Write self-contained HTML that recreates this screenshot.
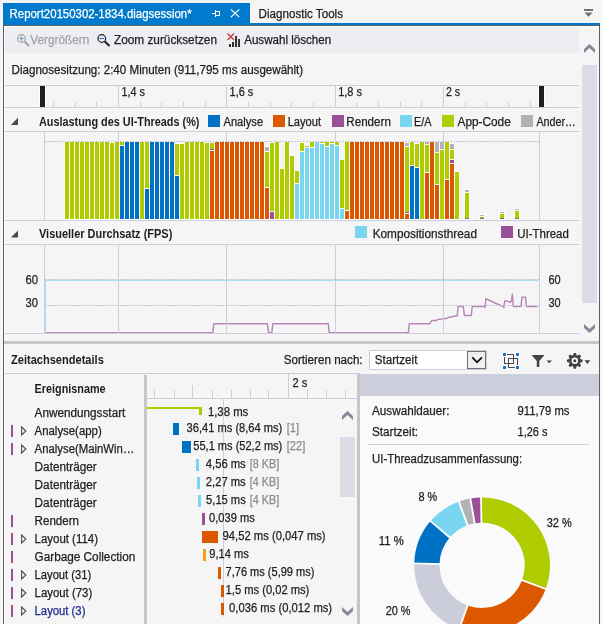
<!DOCTYPE html><html><head><meta charset="utf-8"><title>Diagnostic Tools</title><style>html,body{margin:0;padding:0;background:#f5f5f5;overflow:hidden;}svg{display:block;will-change:transform;}text{font-family:"Liberation Sans", "DejaVu Sans", sans-serif;font-size:12px;}</style></head><body>
<svg width="602" height="624" viewBox="0 0 602 624">
<g shape-rendering="crispEdges">
<rect x="0" y="0" width="602" height="624" fill="#f5f5f5"/>
<rect x="3" y="3" width="247" height="22" fill="#007acc"/>
<rect x="250" y="23" width="350" height="2" fill="#007acc"/>
<rect x="3" y="25" width="597" height="1" fill="#5e5e5e"/>
<rect x="3" y="25" width="1" height="599" fill="#5e5e5e"/>
<rect x="599" y="25" width="1" height="599" fill="#5e5e5e"/>
<rect x="4" y="26" width="595" height="1" fill="#ffffff"/>
<rect x="4" y="26" width="1" height="598" fill="#ffffff"/>
<rect x="5" y="27" width="574" height="26" fill="#eeeef2"/>
</g>
<text x="9.60" y="18" fill="#ffffff" stroke="#ffffff" stroke-width="0.25" textLength="181.99" lengthAdjust="spacingAndGlyphs">Report20150302-1834.diagsession*</text>
<text x="258.60" y="18" fill="#1e1e1e" stroke="#1e1e1e" stroke-width="0.25" textLength="84.40" lengthAdjust="spacingAndGlyphs">Diagnostic Tools</text>
<g shape-rendering="crispEdges">
<rect x="212" y="13" width="3" height="1" fill="#ffffff"/>
<rect x="215" y="10" width="1" height="7" fill="#ffffff"/>
<rect x="215" y="11" width="5" height="1" fill="#ffffff"/>
<rect x="215" y="15" width="5" height="1" fill="#ffffff"/>
<rect x="219" y="11" width="1" height="5" fill="#ffffff"/>
</g>
<path d="M230.9 9.4 L239.3 17.1 M239.3 9.4 L230.9 17.1" stroke="#ffffff" stroke-width="1.25" fill="none"/>
<g shape-rendering="crispEdges">
<rect x="584" y="9" width="9" height="2" fill="#717171"/>
</g>
<path d="M584.5 12.5 L592.5 12.5 L588.5 17 Z" fill="#717171"/>
<circle cx="21.5" cy="38.5" r="3.8" fill="none" stroke="#a0a0a0" stroke-width="1.2"/>
<path d="M24.5 41.5 L29 46" stroke="#a0a0a0" stroke-width="2"/>
<path d="M19.3 38.5 H23.7 M21.5 36.3 V40.7" stroke="#6c9bd2" stroke-width="1.1"/>
<text x="30.30" y="44" fill="#a2a4a5" stroke="#a2a4a5" stroke-width="0.25" textLength="59.06" lengthAdjust="spacingAndGlyphs">Vergrößern</text>
<circle cx="101.8" cy="38.5" r="3.8" fill="none" stroke="#1e1e1e" stroke-width="1.2"/>
<path d="M104.8 41.5 L109.5 46" stroke="#1e1e1e" stroke-width="2"/>
<path d="M99.6 38.5 H104" stroke="#1e6fc8" stroke-width="1.2"/>
<text x="114.00" y="44" fill="#1e1e1e" stroke="#1e1e1e" stroke-width="0.25" textLength="102.96" lengthAdjust="spacingAndGlyphs">Zoom zurücksetzen</text>
<path d="M227.5 33.5 L234 40 M234 33.5 L227.5 40" stroke="#c5372c" stroke-width="1.3"/>
<g shape-rendering="crispEdges">
<rect x="229" y="44" width="2" height="3" fill="#333333"/>
<rect x="232" y="42" width="2" height="5" fill="#333333"/>
<rect x="235" y="36" width="2" height="11" fill="#333333"/>
<rect x="238" y="39" width="2" height="8" fill="#333333"/>
</g>
<text x="244.20" y="44" fill="#1e1e1e" stroke="#1e1e1e" stroke-width="0.25" textLength="86.95" lengthAdjust="spacingAndGlyphs">Auswahl löschen</text>
<path d="M584 49.1 L589.5 44 L595 49.1 L595 53 L589.5 47.9 L584 53 Z" fill="#868999"/>
<g shape-rendering="crispEdges">
<rect x="582" y="65" width="15" height="238" fill="#dcdce6"/>
</g>
<path d="M584 324 L589.5 329.1 L595 324 L595 327.9 L589.5 333 L584 327.9 Z" fill="#868999"/>
<text x="11.60" y="74" fill="#1e1e1e" stroke="#1e1e1e" stroke-width="0.25" textLength="291.60" lengthAdjust="spacingAndGlyphs">Diagnosesitzung: 2:40 Minuten (911,795 ms ausgewählt)</text>
<g shape-rendering="crispEdges">
<rect x="5" y="85" width="574" height="1" fill="#cccedb"/>
<rect x="5" y="107" width="574" height="1" fill="#cccedb"/>
<rect x="118" y="86" width="1" height="21" fill="#cccedb"/>
<rect x="226" y="86" width="1" height="21" fill="#cccedb"/>
<rect x="335" y="86" width="1" height="21" fill="#cccedb"/>
<rect x="443" y="86" width="1" height="21" fill="#cccedb"/>
<rect x="53" y="102" width="1" height="5" fill="#cccedb"/>
<rect x="75" y="102" width="1" height="5" fill="#cccedb"/>
<rect x="96" y="102" width="1" height="5" fill="#cccedb"/>
<rect x="140" y="102" width="1" height="5" fill="#cccedb"/>
<rect x="161" y="102" width="1" height="5" fill="#cccedb"/>
<rect x="183" y="102" width="1" height="5" fill="#cccedb"/>
<rect x="205" y="102" width="1" height="5" fill="#cccedb"/>
<rect x="248" y="102" width="1" height="5" fill="#cccedb"/>
<rect x="270" y="102" width="1" height="5" fill="#cccedb"/>
<rect x="291" y="102" width="1" height="5" fill="#cccedb"/>
<rect x="313" y="102" width="1" height="5" fill="#cccedb"/>
<rect x="356" y="102" width="1" height="5" fill="#cccedb"/>
<rect x="378" y="102" width="1" height="5" fill="#cccedb"/>
<rect x="400" y="102" width="1" height="5" fill="#cccedb"/>
<rect x="421" y="102" width="1" height="5" fill="#cccedb"/>
<rect x="465" y="102" width="1" height="5" fill="#cccedb"/>
<rect x="486" y="102" width="1" height="5" fill="#cccedb"/>
<rect x="508" y="102" width="1" height="5" fill="#cccedb"/>
<rect x="530" y="102" width="1" height="5" fill="#cccedb"/>
<rect x="39" y="86" width="7" height="21" fill="#ffffff"/>
<rect x="538" y="86" width="7" height="21" fill="#ffffff"/>
<rect x="40" y="86" width="5" height="21" fill="#1e1e1e"/>
<rect x="539" y="86" width="5" height="21" fill="#1e1e1e"/>
</g>
<text x="121.50" y="96" fill="#1e1e1e" stroke="#1e1e1e" stroke-width="0.25" textLength="23.40" lengthAdjust="spacingAndGlyphs">1,4 s</text>
<text x="229.60" y="96" fill="#1e1e1e" stroke="#1e1e1e" stroke-width="0.25" textLength="23.70" lengthAdjust="spacingAndGlyphs">1,6 s</text>
<text x="338.20" y="96" fill="#1e1e1e" stroke="#1e1e1e" stroke-width="0.25" textLength="23.70" lengthAdjust="spacingAndGlyphs">1,8 s</text>
<text x="445.90" y="96" fill="#1e1e1e" stroke="#1e1e1e" stroke-width="0.25" textLength="14.20" lengthAdjust="spacingAndGlyphs">2 s</text>
<path d="M10.8 125 L18 125 L18 117.8 Z" fill="#4a4a4a"/>
<text x="39.00" y="126" fill="#1e1e1e" font-weight="bold" textLength="160.40" lengthAdjust="spacingAndGlyphs">Auslastung des UI-Threads (%)</text>
<g shape-rendering="crispEdges">
<rect x="208" y="115" width="12" height="12" fill="#0072c6"/>
<rect x="273" y="115" width="12" height="12" fill="#dc5800"/>
<rect x="332" y="115" width="12" height="12" fill="#9b4f96"/>
<rect x="400" y="115" width="12" height="12" fill="#79d6f0"/>
<rect x="442" y="115" width="12" height="12" fill="#afcc00"/>
<rect x="521" y="115" width="12" height="12" fill="#b2b2b2"/>
</g>
<text x="223.50" y="126" fill="#1e1e1e" stroke="#1e1e1e" stroke-width="0.25" textLength="39.60" lengthAdjust="spacingAndGlyphs">Analyse</text>
<text x="287.70" y="126" fill="#1e1e1e" stroke="#1e1e1e" stroke-width="0.25" textLength="33.38" lengthAdjust="spacingAndGlyphs">Layout</text>
<text x="346.30" y="126" fill="#1e1e1e" stroke="#1e1e1e" stroke-width="0.25" textLength="44.55" lengthAdjust="spacingAndGlyphs">Rendern</text>
<text x="414.10" y="126" fill="#1e1e1e" stroke="#1e1e1e" stroke-width="0.25" textLength="17.50" lengthAdjust="spacingAndGlyphs">E/A</text>
<text x="457.50" y="126" fill="#1e1e1e" stroke="#1e1e1e" stroke-width="0.25" textLength="53.28" lengthAdjust="spacingAndGlyphs">App-Code</text>
<text x="536.40" y="126" fill="#1e1e1e" stroke="#1e1e1e" stroke-width="0.25" textLength="39.50" lengthAdjust="spacingAndGlyphs">Ander…</text>
<g shape-rendering="crispEdges">
<rect x="5" y="131" width="574" height="1" fill="#cccedb"/>
<rect x="44" y="132" width="1" height="88" fill="#cccedb"/>
<rect x="539" y="132" width="1" height="88" fill="#cccedb"/>
<rect x="118" y="132" width="1" height="88" fill="#cccedb"/>
<rect x="226" y="132" width="1" height="88" fill="#cccedb"/>
<rect x="335" y="132" width="1" height="88" fill="#cccedb"/>
<rect x="443" y="132" width="1" height="88" fill="#cccedb"/>
<rect x="5" y="220" width="574" height="1" fill="#cccedb"/>
<rect x="64" y="141" width="6" height="79" fill="#ffffff"/>
<rect x="65" y="142" width="4" height="77" fill="#afcc00"/>
<rect x="69" y="141" width="6" height="79" fill="#ffffff"/>
<rect x="70" y="142" width="4" height="77" fill="#afcc00"/>
<rect x="74" y="141" width="6" height="79" fill="#ffffff"/>
<rect x="75" y="142" width="4" height="77" fill="#afcc00"/>
<rect x="79" y="141" width="6" height="79" fill="#ffffff"/>
<rect x="80" y="142" width="4" height="77" fill="#afcc00"/>
<rect x="84" y="141" width="6" height="79" fill="#ffffff"/>
<rect x="85" y="142" width="4" height="77" fill="#afcc00"/>
<rect x="89" y="141" width="6" height="79" fill="#ffffff"/>
<rect x="90" y="142" width="4" height="77" fill="#afcc00"/>
<rect x="94" y="141" width="6" height="79" fill="#ffffff"/>
<rect x="95" y="142" width="4" height="77" fill="#afcc00"/>
<rect x="99" y="141" width="6" height="79" fill="#ffffff"/>
<rect x="100" y="142" width="4" height="77" fill="#afcc00"/>
<rect x="104" y="141" width="6" height="79" fill="#ffffff"/>
<rect x="105" y="142" width="4" height="77" fill="#afcc00"/>
<rect x="109" y="142" width="6" height="78" fill="#ffffff"/>
<rect x="110" y="143" width="4" height="76" fill="#afcc00"/>
<rect x="114" y="141" width="6" height="79" fill="#ffffff"/>
<rect x="115" y="142" width="4" height="77" fill="#afcc00"/>
<rect x="119" y="141" width="6" height="79" fill="#ffffff"/>
<rect x="120" y="142" width="4" height="3" fill="#afcc00"/>
<rect x="120" y="146" width="4" height="73" fill="#0072c6"/>
<rect x="124" y="141" width="6" height="79" fill="#ffffff"/>
<rect x="125" y="142" width="4" height="77" fill="#0072c6"/>
<rect x="129" y="141" width="6" height="79" fill="#ffffff"/>
<rect x="130" y="142" width="4" height="77" fill="#0072c6"/>
<rect x="134" y="141" width="6" height="79" fill="#ffffff"/>
<rect x="135" y="142" width="4" height="77" fill="#0072c6"/>
<rect x="139" y="141" width="6" height="79" fill="#ffffff"/>
<rect x="140" y="142" width="4" height="77" fill="#afcc00"/>
<rect x="144" y="141" width="6" height="79" fill="#ffffff"/>
<rect x="145" y="142" width="4" height="46" fill="#afcc00"/>
<rect x="145" y="189" width="4" height="30" fill="#0072c6"/>
<rect x="149" y="141" width="6" height="79" fill="#ffffff"/>
<rect x="150" y="142" width="4" height="77" fill="#0072c6"/>
<rect x="154" y="141" width="6" height="79" fill="#ffffff"/>
<rect x="155" y="142" width="4" height="77" fill="#0072c6"/>
<rect x="159" y="141" width="6" height="79" fill="#ffffff"/>
<rect x="160" y="142" width="4" height="77" fill="#0072c6"/>
<rect x="164" y="141" width="6" height="79" fill="#ffffff"/>
<rect x="165" y="142" width="4" height="77" fill="#0072c6"/>
<rect x="169" y="141" width="6" height="79" fill="#ffffff"/>
<rect x="170" y="142" width="4" height="77" fill="#0072c6"/>
<rect x="174" y="143" width="6" height="77" fill="#ffffff"/>
<rect x="175" y="144" width="4" height="31" fill="#afcc00"/>
<rect x="175" y="176" width="4" height="43" fill="#0072c6"/>
<rect x="179" y="143" width="6" height="77" fill="#ffffff"/>
<rect x="180" y="144" width="4" height="75" fill="#afcc00"/>
<rect x="184" y="141" width="6" height="79" fill="#ffffff"/>
<rect x="185" y="142" width="4" height="77" fill="#afcc00"/>
<rect x="189" y="141" width="6" height="79" fill="#ffffff"/>
<rect x="190" y="142" width="4" height="77" fill="#afcc00"/>
<rect x="194" y="141" width="6" height="79" fill="#ffffff"/>
<rect x="195" y="142" width="4" height="77" fill="#afcc00"/>
<rect x="199" y="141" width="6" height="79" fill="#ffffff"/>
<rect x="200" y="142" width="4" height="77" fill="#afcc00"/>
<rect x="204" y="142" width="6" height="78" fill="#ffffff"/>
<rect x="205" y="143" width="4" height="76" fill="#afcc00"/>
<rect x="209" y="142" width="6" height="78" fill="#ffffff"/>
<rect x="210" y="143" width="4" height="6" fill="#afcc00"/>
<rect x="210" y="149" width="4" height="1" fill="#9b4f96"/>
<rect x="210" y="151" width="4" height="68" fill="#dc5800"/>
<rect x="214" y="141" width="6" height="79" fill="#ffffff"/>
<rect x="215" y="142" width="4" height="77" fill="#dc5800"/>
<rect x="219" y="141" width="6" height="79" fill="#ffffff"/>
<rect x="220" y="142" width="4" height="77" fill="#dc5800"/>
<rect x="224" y="141" width="6" height="79" fill="#ffffff"/>
<rect x="225" y="142" width="4" height="77" fill="#dc5800"/>
<rect x="229" y="141" width="6" height="79" fill="#ffffff"/>
<rect x="230" y="142" width="4" height="77" fill="#dc5800"/>
<rect x="234" y="141" width="6" height="79" fill="#ffffff"/>
<rect x="235" y="142" width="4" height="77" fill="#dc5800"/>
<rect x="239" y="141" width="6" height="79" fill="#ffffff"/>
<rect x="240" y="142" width="4" height="77" fill="#dc5800"/>
<rect x="244" y="141" width="6" height="79" fill="#ffffff"/>
<rect x="245" y="142" width="4" height="77" fill="#dc5800"/>
<rect x="249" y="141" width="6" height="79" fill="#ffffff"/>
<rect x="250" y="142" width="4" height="77" fill="#dc5800"/>
<rect x="254" y="141" width="6" height="79" fill="#ffffff"/>
<rect x="255" y="142" width="4" height="77" fill="#dc5800"/>
<rect x="259" y="141" width="6" height="79" fill="#ffffff"/>
<rect x="260" y="142" width="4" height="77" fill="#dc5800"/>
<rect x="264" y="146" width="6" height="74" fill="#ffffff"/>
<rect x="265" y="147" width="4" height="4" fill="#b2b2b2"/>
<rect x="265" y="152" width="4" height="35" fill="#afcc00"/>
<rect x="265" y="188" width="4" height="31" fill="#dc5800"/>
<rect x="269" y="142" width="6" height="78" fill="#ffffff"/>
<rect x="270" y="143" width="4" height="68" fill="#afcc00"/>
<rect x="270" y="212" width="4" height="7" fill="#9b4f96"/>
<rect x="274" y="141" width="6" height="79" fill="#ffffff"/>
<rect x="275" y="142" width="4" height="77" fill="#afcc00"/>
<rect x="279" y="168" width="6" height="52" fill="#ffffff"/>
<rect x="280" y="169" width="4" height="50" fill="#afcc00"/>
<rect x="284" y="141" width="6" height="79" fill="#ffffff"/>
<rect x="285" y="142" width="4" height="77" fill="#afcc00"/>
<rect x="289" y="155" width="6" height="65" fill="#ffffff"/>
<rect x="290" y="156" width="4" height="63" fill="#afcc00"/>
<rect x="294" y="170" width="6" height="50" fill="#ffffff"/>
<rect x="295" y="171" width="4" height="12" fill="#afcc00"/>
<rect x="295" y="184" width="4" height="35" fill="#79d6f0"/>
<rect x="299" y="142" width="6" height="78" fill="#ffffff"/>
<rect x="300" y="143" width="4" height="8" fill="#afcc00"/>
<rect x="300" y="152" width="4" height="67" fill="#79d6f0"/>
<rect x="304" y="145" width="6" height="75" fill="#ffffff"/>
<rect x="305" y="146" width="4" height="1" fill="#afcc00"/>
<rect x="305" y="148" width="4" height="71" fill="#79d6f0"/>
<rect x="309" y="141" width="6" height="79" fill="#ffffff"/>
<rect x="310" y="142" width="4" height="5" fill="#afcc00"/>
<rect x="310" y="148" width="4" height="71" fill="#79d6f0"/>
<rect x="314" y="141" width="6" height="79" fill="#ffffff"/>
<rect x="315" y="142" width="4" height="77" fill="#79d6f0"/>
<rect x="319" y="141" width="6" height="79" fill="#ffffff"/>
<rect x="320" y="142" width="4" height="1" fill="#afcc00"/>
<rect x="320" y="144" width="4" height="75" fill="#79d6f0"/>
<rect x="324" y="141" width="6" height="79" fill="#ffffff"/>
<rect x="325" y="142" width="4" height="4" fill="#afcc00"/>
<rect x="325" y="147" width="4" height="72" fill="#79d6f0"/>
<rect x="329" y="141" width="6" height="79" fill="#ffffff"/>
<rect x="330" y="142" width="4" height="1" fill="#afcc00"/>
<rect x="330" y="144" width="4" height="75" fill="#79d6f0"/>
<rect x="334" y="141" width="6" height="79" fill="#ffffff"/>
<rect x="335" y="142" width="4" height="3" fill="#afcc00"/>
<rect x="335" y="146" width="4" height="73" fill="#79d6f0"/>
<rect x="339" y="159" width="6" height="61" fill="#ffffff"/>
<rect x="340" y="160" width="4" height="48" fill="#afcc00"/>
<rect x="340" y="209" width="4" height="10" fill="#79d6f0"/>
<rect x="344" y="141" width="6" height="79" fill="#ffffff"/>
<rect x="345" y="142" width="4" height="68" fill="#afcc00"/>
<rect x="345" y="211" width="4" height="8" fill="#dc5800"/>
<rect x="349" y="141" width="6" height="79" fill="#ffffff"/>
<rect x="350" y="142" width="4" height="77" fill="#dc5800"/>
<rect x="354" y="141" width="6" height="79" fill="#ffffff"/>
<rect x="355" y="142" width="4" height="77" fill="#dc5800"/>
<rect x="359" y="141" width="6" height="79" fill="#ffffff"/>
<rect x="360" y="142" width="4" height="77" fill="#dc5800"/>
<rect x="364" y="141" width="6" height="79" fill="#ffffff"/>
<rect x="365" y="142" width="4" height="77" fill="#dc5800"/>
<rect x="369" y="141" width="6" height="79" fill="#ffffff"/>
<rect x="370" y="142" width="4" height="77" fill="#dc5800"/>
<rect x="374" y="141" width="6" height="79" fill="#ffffff"/>
<rect x="375" y="142" width="4" height="77" fill="#dc5800"/>
<rect x="379" y="141" width="6" height="79" fill="#ffffff"/>
<rect x="380" y="142" width="4" height="77" fill="#dc5800"/>
<rect x="384" y="141" width="6" height="79" fill="#ffffff"/>
<rect x="385" y="142" width="4" height="77" fill="#dc5800"/>
<rect x="389" y="141" width="6" height="79" fill="#ffffff"/>
<rect x="390" y="142" width="4" height="77" fill="#dc5800"/>
<rect x="394" y="141" width="6" height="79" fill="#ffffff"/>
<rect x="395" y="142" width="4" height="77" fill="#dc5800"/>
<rect x="399" y="141" width="6" height="79" fill="#ffffff"/>
<rect x="400" y="142" width="4" height="77" fill="#dc5800"/>
<rect x="404" y="142" width="6" height="78" fill="#ffffff"/>
<rect x="405" y="143" width="4" height="3" fill="#b2b2b2"/>
<rect x="405" y="147" width="4" height="65" fill="#afcc00"/>
<rect x="405" y="212" width="4" height="1" fill="#9b4f96"/>
<rect x="405" y="214" width="4" height="5" fill="#dc5800"/>
<rect x="409" y="141" width="6" height="79" fill="#ffffff"/>
<rect x="410" y="142" width="4" height="23" fill="#afcc00"/>
<rect x="410" y="166" width="4" height="53" fill="#0072c6"/>
<rect x="414" y="143" width="6" height="77" fill="#ffffff"/>
<rect x="415" y="144" width="4" height="23" fill="#afcc00"/>
<rect x="415" y="168" width="4" height="51" fill="#0072c6"/>
<rect x="419" y="141" width="6" height="79" fill="#ffffff"/>
<rect x="420" y="142" width="4" height="77" fill="#afcc00"/>
<rect x="424" y="141" width="6" height="79" fill="#ffffff"/>
<rect x="425" y="142" width="4" height="2" fill="#b2b2b2"/>
<rect x="425" y="145" width="4" height="27" fill="#afcc00"/>
<rect x="425" y="173" width="4" height="46" fill="#dc5800"/>
<rect x="429" y="141" width="6" height="79" fill="#ffffff"/>
<rect x="430" y="142" width="4" height="77" fill="#dc5800"/>
<rect x="434" y="141" width="6" height="79" fill="#ffffff"/>
<rect x="435" y="142" width="4" height="10" fill="#b2b2b2"/>
<rect x="435" y="153" width="4" height="31" fill="#afcc00"/>
<rect x="435" y="185" width="4" height="34" fill="#dc5800"/>
<rect x="439" y="141" width="6" height="79" fill="#ffffff"/>
<rect x="440" y="142" width="4" height="7" fill="#b2b2b2"/>
<rect x="440" y="150" width="4" height="69" fill="#afcc00"/>
<rect x="444" y="141" width="6" height="79" fill="#ffffff"/>
<rect x="445" y="142" width="4" height="37" fill="#afcc00"/>
<rect x="445" y="180" width="4" height="39" fill="#dc5800"/>
<rect x="449" y="143" width="6" height="77" fill="#ffffff"/>
<rect x="450" y="144" width="4" height="5" fill="#b2b2b2"/>
<rect x="450" y="150" width="4" height="9" fill="#afcc00"/>
<rect x="450" y="160" width="4" height="3" fill="#9b4f96"/>
<rect x="450" y="164" width="4" height="55" fill="#dc5800"/>
<rect x="454" y="171" width="6" height="49" fill="#ffffff"/>
<rect x="455" y="172" width="4" height="47" fill="#afcc00"/>
<rect x="464" y="189" width="6" height="31" fill="#ffffff"/>
<rect x="465" y="190" width="4" height="2" fill="#b2b2b2"/>
<rect x="465" y="193" width="4" height="25" fill="#afcc00"/>
<rect x="465" y="218" width="4" height="1" fill="#9b4f96"/>
<rect x="479" y="214" width="6" height="6" fill="#ffffff"/>
<rect x="480" y="215" width="4" height="1" fill="#b2b2b2"/>
<rect x="480" y="217" width="4" height="1" fill="#afcc00"/>
<rect x="480" y="218" width="4" height="1" fill="#9b4f96"/>
<rect x="499" y="211" width="6" height="9" fill="#ffffff"/>
<rect x="500" y="212" width="4" height="1" fill="#b2b2b2"/>
<rect x="500" y="214" width="4" height="4" fill="#afcc00"/>
<rect x="500" y="218" width="4" height="1" fill="#9b4f96"/>
<rect x="514" y="208" width="6" height="12" fill="#ffffff"/>
<rect x="515" y="209" width="4" height="1" fill="#b2b2b2"/>
<rect x="515" y="211" width="4" height="7" fill="#afcc00"/>
<rect x="515" y="218" width="4" height="1" fill="#9b4f96"/>
<rect x="45" y="141" width="2" height="1" fill="#c3c5d3"/>
<rect x="48" y="141" width="2" height="1" fill="#c3c5d3"/>
<rect x="51" y="141" width="2" height="1" fill="#c3c5d3"/>
<rect x="54" y="141" width="2" height="1" fill="#c3c5d3"/>
<rect x="57" y="141" width="2" height="1" fill="#c3c5d3"/>
<rect x="60" y="141" width="2" height="1" fill="#c3c5d3"/>
<rect x="63" y="141" width="2" height="1" fill="#c3c5d3"/>
<rect x="66" y="141" width="2" height="1" fill="#c3c5d3"/>
<rect x="69" y="141" width="2" height="1" fill="#c3c5d3"/>
<rect x="72" y="141" width="2" height="1" fill="#c3c5d3"/>
<rect x="75" y="141" width="2" height="1" fill="#c3c5d3"/>
<rect x="78" y="141" width="2" height="1" fill="#c3c5d3"/>
<rect x="81" y="141" width="2" height="1" fill="#c3c5d3"/>
<rect x="84" y="141" width="2" height="1" fill="#c3c5d3"/>
<rect x="87" y="141" width="2" height="1" fill="#c3c5d3"/>
<rect x="90" y="141" width="2" height="1" fill="#c3c5d3"/>
<rect x="93" y="141" width="2" height="1" fill="#c3c5d3"/>
<rect x="96" y="141" width="2" height="1" fill="#c3c5d3"/>
<rect x="99" y="141" width="2" height="1" fill="#c3c5d3"/>
<rect x="102" y="141" width="2" height="1" fill="#c3c5d3"/>
<rect x="105" y="141" width="2" height="1" fill="#c3c5d3"/>
<rect x="108" y="141" width="2" height="1" fill="#c3c5d3"/>
<rect x="111" y="141" width="2" height="1" fill="#c3c5d3"/>
<rect x="114" y="141" width="2" height="1" fill="#c3c5d3"/>
<rect x="117" y="141" width="2" height="1" fill="#c3c5d3"/>
<rect x="120" y="141" width="2" height="1" fill="#c3c5d3"/>
<rect x="123" y="141" width="2" height="1" fill="#c3c5d3"/>
<rect x="126" y="141" width="2" height="1" fill="#c3c5d3"/>
<rect x="129" y="141" width="2" height="1" fill="#c3c5d3"/>
<rect x="132" y="141" width="2" height="1" fill="#c3c5d3"/>
<rect x="135" y="141" width="2" height="1" fill="#c3c5d3"/>
<rect x="138" y="141" width="2" height="1" fill="#c3c5d3"/>
<rect x="141" y="141" width="2" height="1" fill="#c3c5d3"/>
<rect x="144" y="141" width="2" height="1" fill="#c3c5d3"/>
<rect x="147" y="141" width="2" height="1" fill="#c3c5d3"/>
<rect x="150" y="141" width="2" height="1" fill="#c3c5d3"/>
<rect x="153" y="141" width="2" height="1" fill="#c3c5d3"/>
<rect x="156" y="141" width="2" height="1" fill="#c3c5d3"/>
<rect x="159" y="141" width="2" height="1" fill="#c3c5d3"/>
<rect x="162" y="141" width="2" height="1" fill="#c3c5d3"/>
<rect x="165" y="141" width="2" height="1" fill="#c3c5d3"/>
<rect x="168" y="141" width="2" height="1" fill="#c3c5d3"/>
<rect x="171" y="141" width="2" height="1" fill="#c3c5d3"/>
<rect x="174" y="141" width="2" height="1" fill="#c3c5d3"/>
<rect x="177" y="141" width="2" height="1" fill="#c3c5d3"/>
<rect x="180" y="141" width="2" height="1" fill="#c3c5d3"/>
<rect x="183" y="141" width="2" height="1" fill="#c3c5d3"/>
<rect x="186" y="141" width="2" height="1" fill="#c3c5d3"/>
<rect x="189" y="141" width="2" height="1" fill="#c3c5d3"/>
<rect x="192" y="141" width="2" height="1" fill="#c3c5d3"/>
<rect x="195" y="141" width="2" height="1" fill="#c3c5d3"/>
<rect x="198" y="141" width="2" height="1" fill="#c3c5d3"/>
<rect x="201" y="141" width="2" height="1" fill="#c3c5d3"/>
<rect x="204" y="141" width="2" height="1" fill="#c3c5d3"/>
<rect x="207" y="141" width="2" height="1" fill="#c3c5d3"/>
<rect x="210" y="141" width="2" height="1" fill="#c3c5d3"/>
<rect x="213" y="141" width="2" height="1" fill="#c3c5d3"/>
<rect x="216" y="141" width="2" height="1" fill="#c3c5d3"/>
<rect x="219" y="141" width="2" height="1" fill="#c3c5d3"/>
<rect x="222" y="141" width="2" height="1" fill="#c3c5d3"/>
<rect x="225" y="141" width="2" height="1" fill="#c3c5d3"/>
<rect x="228" y="141" width="2" height="1" fill="#c3c5d3"/>
<rect x="231" y="141" width="2" height="1" fill="#c3c5d3"/>
<rect x="234" y="141" width="2" height="1" fill="#c3c5d3"/>
<rect x="237" y="141" width="2" height="1" fill="#c3c5d3"/>
<rect x="240" y="141" width="2" height="1" fill="#c3c5d3"/>
<rect x="243" y="141" width="2" height="1" fill="#c3c5d3"/>
<rect x="246" y="141" width="2" height="1" fill="#c3c5d3"/>
<rect x="249" y="141" width="2" height="1" fill="#c3c5d3"/>
<rect x="252" y="141" width="2" height="1" fill="#c3c5d3"/>
<rect x="255" y="141" width="2" height="1" fill="#c3c5d3"/>
<rect x="258" y="141" width="2" height="1" fill="#c3c5d3"/>
<rect x="261" y="141" width="2" height="1" fill="#c3c5d3"/>
<rect x="264" y="141" width="2" height="1" fill="#c3c5d3"/>
<rect x="267" y="141" width="2" height="1" fill="#c3c5d3"/>
<rect x="270" y="141" width="2" height="1" fill="#c3c5d3"/>
<rect x="273" y="141" width="2" height="1" fill="#c3c5d3"/>
<rect x="276" y="141" width="2" height="1" fill="#c3c5d3"/>
<rect x="279" y="141" width="2" height="1" fill="#c3c5d3"/>
<rect x="282" y="141" width="2" height="1" fill="#c3c5d3"/>
<rect x="285" y="141" width="2" height="1" fill="#c3c5d3"/>
<rect x="288" y="141" width="2" height="1" fill="#c3c5d3"/>
<rect x="291" y="141" width="2" height="1" fill="#c3c5d3"/>
<rect x="294" y="141" width="2" height="1" fill="#c3c5d3"/>
<rect x="297" y="141" width="2" height="1" fill="#c3c5d3"/>
<rect x="300" y="141" width="2" height="1" fill="#c3c5d3"/>
<rect x="303" y="141" width="2" height="1" fill="#c3c5d3"/>
<rect x="306" y="141" width="2" height="1" fill="#c3c5d3"/>
<rect x="309" y="141" width="2" height="1" fill="#c3c5d3"/>
<rect x="312" y="141" width="2" height="1" fill="#c3c5d3"/>
<rect x="315" y="141" width="2" height="1" fill="#c3c5d3"/>
<rect x="318" y="141" width="2" height="1" fill="#c3c5d3"/>
<rect x="321" y="141" width="2" height="1" fill="#c3c5d3"/>
<rect x="324" y="141" width="2" height="1" fill="#c3c5d3"/>
<rect x="327" y="141" width="2" height="1" fill="#c3c5d3"/>
<rect x="330" y="141" width="2" height="1" fill="#c3c5d3"/>
<rect x="333" y="141" width="2" height="1" fill="#c3c5d3"/>
<rect x="336" y="141" width="2" height="1" fill="#c3c5d3"/>
<rect x="339" y="141" width="2" height="1" fill="#c3c5d3"/>
<rect x="342" y="141" width="2" height="1" fill="#c3c5d3"/>
<rect x="345" y="141" width="2" height="1" fill="#c3c5d3"/>
<rect x="348" y="141" width="2" height="1" fill="#c3c5d3"/>
<rect x="351" y="141" width="2" height="1" fill="#c3c5d3"/>
<rect x="354" y="141" width="2" height="1" fill="#c3c5d3"/>
<rect x="357" y="141" width="2" height="1" fill="#c3c5d3"/>
<rect x="360" y="141" width="2" height="1" fill="#c3c5d3"/>
<rect x="363" y="141" width="2" height="1" fill="#c3c5d3"/>
<rect x="366" y="141" width="2" height="1" fill="#c3c5d3"/>
<rect x="369" y="141" width="2" height="1" fill="#c3c5d3"/>
<rect x="372" y="141" width="2" height="1" fill="#c3c5d3"/>
<rect x="375" y="141" width="2" height="1" fill="#c3c5d3"/>
<rect x="378" y="141" width="2" height="1" fill="#c3c5d3"/>
<rect x="381" y="141" width="2" height="1" fill="#c3c5d3"/>
<rect x="384" y="141" width="2" height="1" fill="#c3c5d3"/>
<rect x="387" y="141" width="2" height="1" fill="#c3c5d3"/>
<rect x="390" y="141" width="2" height="1" fill="#c3c5d3"/>
<rect x="393" y="141" width="2" height="1" fill="#c3c5d3"/>
<rect x="396" y="141" width="2" height="1" fill="#c3c5d3"/>
<rect x="399" y="141" width="2" height="1" fill="#c3c5d3"/>
<rect x="402" y="141" width="2" height="1" fill="#c3c5d3"/>
<rect x="405" y="141" width="2" height="1" fill="#c3c5d3"/>
<rect x="408" y="141" width="2" height="1" fill="#c3c5d3"/>
<rect x="411" y="141" width="2" height="1" fill="#c3c5d3"/>
<rect x="414" y="141" width="2" height="1" fill="#c3c5d3"/>
<rect x="417" y="141" width="2" height="1" fill="#c3c5d3"/>
<rect x="420" y="141" width="2" height="1" fill="#c3c5d3"/>
<rect x="423" y="141" width="2" height="1" fill="#c3c5d3"/>
<rect x="426" y="141" width="2" height="1" fill="#c3c5d3"/>
<rect x="429" y="141" width="2" height="1" fill="#c3c5d3"/>
<rect x="432" y="141" width="2" height="1" fill="#c3c5d3"/>
<rect x="435" y="141" width="2" height="1" fill="#c3c5d3"/>
<rect x="438" y="141" width="2" height="1" fill="#c3c5d3"/>
<rect x="441" y="141" width="2" height="1" fill="#c3c5d3"/>
<rect x="444" y="141" width="2" height="1" fill="#c3c5d3"/>
<rect x="447" y="141" width="2" height="1" fill="#c3c5d3"/>
<rect x="450" y="141" width="2" height="1" fill="#c3c5d3"/>
<rect x="453" y="141" width="2" height="1" fill="#c3c5d3"/>
<rect x="456" y="141" width="2" height="1" fill="#c3c5d3"/>
<rect x="459" y="141" width="2" height="1" fill="#c3c5d3"/>
<rect x="462" y="141" width="2" height="1" fill="#c3c5d3"/>
<rect x="465" y="141" width="2" height="1" fill="#c3c5d3"/>
<rect x="468" y="141" width="2" height="1" fill="#c3c5d3"/>
<rect x="471" y="141" width="2" height="1" fill="#c3c5d3"/>
<rect x="474" y="141" width="2" height="1" fill="#c3c5d3"/>
<rect x="477" y="141" width="2" height="1" fill="#c3c5d3"/>
<rect x="480" y="141" width="2" height="1" fill="#c3c5d3"/>
<rect x="483" y="141" width="2" height="1" fill="#c3c5d3"/>
<rect x="486" y="141" width="2" height="1" fill="#c3c5d3"/>
<rect x="489" y="141" width="2" height="1" fill="#c3c5d3"/>
<rect x="492" y="141" width="2" height="1" fill="#c3c5d3"/>
<rect x="495" y="141" width="2" height="1" fill="#c3c5d3"/>
<rect x="498" y="141" width="2" height="1" fill="#c3c5d3"/>
<rect x="501" y="141" width="2" height="1" fill="#c3c5d3"/>
<rect x="504" y="141" width="2" height="1" fill="#c3c5d3"/>
<rect x="507" y="141" width="2" height="1" fill="#c3c5d3"/>
<rect x="510" y="141" width="2" height="1" fill="#c3c5d3"/>
<rect x="513" y="141" width="2" height="1" fill="#c3c5d3"/>
<rect x="516" y="141" width="2" height="1" fill="#c3c5d3"/>
<rect x="519" y="141" width="2" height="1" fill="#c3c5d3"/>
<rect x="522" y="141" width="2" height="1" fill="#c3c5d3"/>
<rect x="525" y="141" width="2" height="1" fill="#c3c5d3"/>
<rect x="528" y="141" width="2" height="1" fill="#c3c5d3"/>
<rect x="531" y="141" width="2" height="1" fill="#c3c5d3"/>
<rect x="534" y="141" width="2" height="1" fill="#c3c5d3"/>
<rect x="537" y="141" width="2" height="1" fill="#c3c5d3"/>
</g>
<path d="M10.8 237.6 L18 237.6 L18 230.4 Z" fill="#4a4a4a"/>
<text x="39.00" y="238" fill="#1e1e1e" font-weight="bold" textLength="133.30" lengthAdjust="spacingAndGlyphs">Visueller Durchsatz (FPS)</text>
<g shape-rendering="crispEdges">
<rect x="355" y="226" width="12" height="12" fill="#79d6f0"/>
<rect x="501" y="226" width="12" height="12" fill="#9b4f96"/>
</g>
<text x="372.70" y="238" fill="#1e1e1e" stroke="#1e1e1e" stroke-width="0.25" textLength="104.26" lengthAdjust="spacingAndGlyphs">Kompositionsthread</text>
<text x="517.30" y="238" fill="#1e1e1e" stroke="#1e1e1e" stroke-width="0.25" textLength="51.54" lengthAdjust="spacingAndGlyphs">UI-Thread</text>
<g shape-rendering="crispEdges">
<rect x="5" y="244" width="574" height="1" fill="#cccedb"/>
<rect x="44" y="245" width="1" height="88" fill="#cccedb"/>
<rect x="539" y="245" width="1" height="88" fill="#cccedb"/>
<rect x="45" y="280" width="493" height="1" fill="#a8def0"/>
<rect x="45" y="280" width="1" height="52" fill="#a8def0"/>
</g>
<text x="25.60" y="284" fill="#1e1e1e" stroke="#1e1e1e" stroke-width="0.25" textLength="12.49" lengthAdjust="spacingAndGlyphs">60</text>
<text x="25.60" y="307" fill="#1e1e1e" stroke="#1e1e1e" stroke-width="0.25" textLength="12.49" lengthAdjust="spacingAndGlyphs">30</text>
<text x="548.50" y="284" fill="#1e1e1e" stroke="#1e1e1e" stroke-width="0.25" textLength="12.20" lengthAdjust="spacingAndGlyphs">60</text>
<text x="548.50" y="307" fill="#1e1e1e" stroke="#1e1e1e" stroke-width="0.25" textLength="12.20" lengthAdjust="spacingAndGlyphs">30</text>
<path d="M45.5 332.8 L212.8 332.8 L213.8 323.8 L267.3 323.8 L268.6 332.8 L271.8 332.8 L272.8 323.8 L328.3 323.8 L329.3 332.8 L408.3 332.8 L409.3 323.8 L429.7 323.8 L431.7 320.6 L436.7 320.4 L438 319.2 L443 318.9 L447 318.2 L449 317.2 L451.5 317 L452.5 316.4 L456.2 316.1 L457.3 315.8 L458 306.5 L463.3 306.5 L464.3 315.4 L471.3 315.4 L472.2 306.5 L484.4 306.5 L485.1 307.5 L485.9 298.8 L500 305.2 L503 306.2 L504 307.4 L504.7 300.9 L507 300.9 L510.3 302.4 L511.5 301.2 L512.4 294.2 L513.3 306.5 L521 306.5 L522 297.2 L525.5 297.2 L526.5 306.5 L537.5 306.5" fill="none" stroke="#ffffff" stroke-opacity="0.5" stroke-width="3.5" stroke-linejoin="round"/>
<path d="M45.5 332.8 L212.8 332.8 L213.8 323.8 L267.3 323.8 L268.6 332.8 L271.8 332.8 L272.8 323.8 L328.3 323.8 L329.3 332.8 L408.3 332.8 L409.3 323.8 L429.7 323.8 L431.7 320.6 L436.7 320.4 L438 319.2 L443 318.9 L447 318.2 L449 317.2 L451.5 317 L452.5 316.4 L456.2 316.1 L457.3 315.8 L458 306.5 L463.3 306.5 L464.3 315.4 L471.3 315.4 L472.2 306.5 L484.4 306.5 L485.1 307.5 L485.9 298.8 L500 305.2 L503 306.2 L504 307.4 L504.7 300.9 L507 300.9 L510.3 302.4 L511.5 301.2 L512.4 294.2 L513.3 306.5 L521 306.5 L522 297.2 L525.5 297.2 L526.5 306.5 L537.5 306.5" fill="none" stroke="#b984b9" stroke-width="1.5" stroke-linejoin="round"/>
<g shape-rendering="crispEdges">
<rect x="118" y="245" width="1" height="88" fill="#cccedb"/>
<rect x="226" y="245" width="1" height="88" fill="#cccedb"/>
<rect x="335" y="245" width="1" height="88" fill="#cccedb"/>
<rect x="443" y="245" width="1" height="88" fill="#cccedb"/>
<rect x="5" y="333" width="574" height="1" fill="#cccedb"/>
<rect x="45" y="279" width="2" height="1" fill="#c3c5d3"/>
<rect x="48" y="279" width="2" height="1" fill="#c3c5d3"/>
<rect x="51" y="279" width="2" height="1" fill="#c3c5d3"/>
<rect x="54" y="279" width="2" height="1" fill="#c3c5d3"/>
<rect x="57" y="279" width="2" height="1" fill="#c3c5d3"/>
<rect x="60" y="279" width="2" height="1" fill="#c3c5d3"/>
<rect x="63" y="279" width="2" height="1" fill="#c3c5d3"/>
<rect x="66" y="279" width="2" height="1" fill="#c3c5d3"/>
<rect x="69" y="279" width="2" height="1" fill="#c3c5d3"/>
<rect x="72" y="279" width="2" height="1" fill="#c3c5d3"/>
<rect x="75" y="279" width="2" height="1" fill="#c3c5d3"/>
<rect x="78" y="279" width="2" height="1" fill="#c3c5d3"/>
<rect x="81" y="279" width="2" height="1" fill="#c3c5d3"/>
<rect x="84" y="279" width="2" height="1" fill="#c3c5d3"/>
<rect x="87" y="279" width="2" height="1" fill="#c3c5d3"/>
<rect x="90" y="279" width="2" height="1" fill="#c3c5d3"/>
<rect x="93" y="279" width="2" height="1" fill="#c3c5d3"/>
<rect x="96" y="279" width="2" height="1" fill="#c3c5d3"/>
<rect x="99" y="279" width="2" height="1" fill="#c3c5d3"/>
<rect x="102" y="279" width="2" height="1" fill="#c3c5d3"/>
<rect x="105" y="279" width="2" height="1" fill="#c3c5d3"/>
<rect x="108" y="279" width="2" height="1" fill="#c3c5d3"/>
<rect x="111" y="279" width="2" height="1" fill="#c3c5d3"/>
<rect x="114" y="279" width="2" height="1" fill="#c3c5d3"/>
<rect x="117" y="279" width="2" height="1" fill="#c3c5d3"/>
<rect x="120" y="279" width="2" height="1" fill="#c3c5d3"/>
<rect x="123" y="279" width="2" height="1" fill="#c3c5d3"/>
<rect x="126" y="279" width="2" height="1" fill="#c3c5d3"/>
<rect x="129" y="279" width="2" height="1" fill="#c3c5d3"/>
<rect x="132" y="279" width="2" height="1" fill="#c3c5d3"/>
<rect x="135" y="279" width="2" height="1" fill="#c3c5d3"/>
<rect x="138" y="279" width="2" height="1" fill="#c3c5d3"/>
<rect x="141" y="279" width="2" height="1" fill="#c3c5d3"/>
<rect x="144" y="279" width="2" height="1" fill="#c3c5d3"/>
<rect x="147" y="279" width="2" height="1" fill="#c3c5d3"/>
<rect x="150" y="279" width="2" height="1" fill="#c3c5d3"/>
<rect x="153" y="279" width="2" height="1" fill="#c3c5d3"/>
<rect x="156" y="279" width="2" height="1" fill="#c3c5d3"/>
<rect x="159" y="279" width="2" height="1" fill="#c3c5d3"/>
<rect x="162" y="279" width="2" height="1" fill="#c3c5d3"/>
<rect x="165" y="279" width="2" height="1" fill="#c3c5d3"/>
<rect x="168" y="279" width="2" height="1" fill="#c3c5d3"/>
<rect x="171" y="279" width="2" height="1" fill="#c3c5d3"/>
<rect x="174" y="279" width="2" height="1" fill="#c3c5d3"/>
<rect x="177" y="279" width="2" height="1" fill="#c3c5d3"/>
<rect x="180" y="279" width="2" height="1" fill="#c3c5d3"/>
<rect x="183" y="279" width="2" height="1" fill="#c3c5d3"/>
<rect x="186" y="279" width="2" height="1" fill="#c3c5d3"/>
<rect x="189" y="279" width="2" height="1" fill="#c3c5d3"/>
<rect x="192" y="279" width="2" height="1" fill="#c3c5d3"/>
<rect x="195" y="279" width="2" height="1" fill="#c3c5d3"/>
<rect x="198" y="279" width="2" height="1" fill="#c3c5d3"/>
<rect x="201" y="279" width="2" height="1" fill="#c3c5d3"/>
<rect x="204" y="279" width="2" height="1" fill="#c3c5d3"/>
<rect x="207" y="279" width="2" height="1" fill="#c3c5d3"/>
<rect x="210" y="279" width="2" height="1" fill="#c3c5d3"/>
<rect x="213" y="279" width="2" height="1" fill="#c3c5d3"/>
<rect x="216" y="279" width="2" height="1" fill="#c3c5d3"/>
<rect x="219" y="279" width="2" height="1" fill="#c3c5d3"/>
<rect x="222" y="279" width="2" height="1" fill="#c3c5d3"/>
<rect x="225" y="279" width="2" height="1" fill="#c3c5d3"/>
<rect x="228" y="279" width="2" height="1" fill="#c3c5d3"/>
<rect x="231" y="279" width="2" height="1" fill="#c3c5d3"/>
<rect x="234" y="279" width="2" height="1" fill="#c3c5d3"/>
<rect x="237" y="279" width="2" height="1" fill="#c3c5d3"/>
<rect x="240" y="279" width="2" height="1" fill="#c3c5d3"/>
<rect x="243" y="279" width="2" height="1" fill="#c3c5d3"/>
<rect x="246" y="279" width="2" height="1" fill="#c3c5d3"/>
<rect x="249" y="279" width="2" height="1" fill="#c3c5d3"/>
<rect x="252" y="279" width="2" height="1" fill="#c3c5d3"/>
<rect x="255" y="279" width="2" height="1" fill="#c3c5d3"/>
<rect x="258" y="279" width="2" height="1" fill="#c3c5d3"/>
<rect x="261" y="279" width="2" height="1" fill="#c3c5d3"/>
<rect x="264" y="279" width="2" height="1" fill="#c3c5d3"/>
<rect x="267" y="279" width="2" height="1" fill="#c3c5d3"/>
<rect x="270" y="279" width="2" height="1" fill="#c3c5d3"/>
<rect x="273" y="279" width="2" height="1" fill="#c3c5d3"/>
<rect x="276" y="279" width="2" height="1" fill="#c3c5d3"/>
<rect x="279" y="279" width="2" height="1" fill="#c3c5d3"/>
<rect x="282" y="279" width="2" height="1" fill="#c3c5d3"/>
<rect x="285" y="279" width="2" height="1" fill="#c3c5d3"/>
<rect x="288" y="279" width="2" height="1" fill="#c3c5d3"/>
<rect x="291" y="279" width="2" height="1" fill="#c3c5d3"/>
<rect x="294" y="279" width="2" height="1" fill="#c3c5d3"/>
<rect x="297" y="279" width="2" height="1" fill="#c3c5d3"/>
<rect x="300" y="279" width="2" height="1" fill="#c3c5d3"/>
<rect x="303" y="279" width="2" height="1" fill="#c3c5d3"/>
<rect x="306" y="279" width="2" height="1" fill="#c3c5d3"/>
<rect x="309" y="279" width="2" height="1" fill="#c3c5d3"/>
<rect x="312" y="279" width="2" height="1" fill="#c3c5d3"/>
<rect x="315" y="279" width="2" height="1" fill="#c3c5d3"/>
<rect x="318" y="279" width="2" height="1" fill="#c3c5d3"/>
<rect x="321" y="279" width="2" height="1" fill="#c3c5d3"/>
<rect x="324" y="279" width="2" height="1" fill="#c3c5d3"/>
<rect x="327" y="279" width="2" height="1" fill="#c3c5d3"/>
<rect x="330" y="279" width="2" height="1" fill="#c3c5d3"/>
<rect x="333" y="279" width="2" height="1" fill="#c3c5d3"/>
<rect x="336" y="279" width="2" height="1" fill="#c3c5d3"/>
<rect x="339" y="279" width="2" height="1" fill="#c3c5d3"/>
<rect x="342" y="279" width="2" height="1" fill="#c3c5d3"/>
<rect x="345" y="279" width="2" height="1" fill="#c3c5d3"/>
<rect x="348" y="279" width="2" height="1" fill="#c3c5d3"/>
<rect x="351" y="279" width="2" height="1" fill="#c3c5d3"/>
<rect x="354" y="279" width="2" height="1" fill="#c3c5d3"/>
<rect x="357" y="279" width="2" height="1" fill="#c3c5d3"/>
<rect x="360" y="279" width="2" height="1" fill="#c3c5d3"/>
<rect x="363" y="279" width="2" height="1" fill="#c3c5d3"/>
<rect x="366" y="279" width="2" height="1" fill="#c3c5d3"/>
<rect x="369" y="279" width="2" height="1" fill="#c3c5d3"/>
<rect x="372" y="279" width="2" height="1" fill="#c3c5d3"/>
<rect x="375" y="279" width="2" height="1" fill="#c3c5d3"/>
<rect x="378" y="279" width="2" height="1" fill="#c3c5d3"/>
<rect x="381" y="279" width="2" height="1" fill="#c3c5d3"/>
<rect x="384" y="279" width="2" height="1" fill="#c3c5d3"/>
<rect x="387" y="279" width="2" height="1" fill="#c3c5d3"/>
<rect x="390" y="279" width="2" height="1" fill="#c3c5d3"/>
<rect x="393" y="279" width="2" height="1" fill="#c3c5d3"/>
<rect x="396" y="279" width="2" height="1" fill="#c3c5d3"/>
<rect x="399" y="279" width="2" height="1" fill="#c3c5d3"/>
<rect x="402" y="279" width="2" height="1" fill="#c3c5d3"/>
<rect x="405" y="279" width="2" height="1" fill="#c3c5d3"/>
<rect x="408" y="279" width="2" height="1" fill="#c3c5d3"/>
<rect x="411" y="279" width="2" height="1" fill="#c3c5d3"/>
<rect x="414" y="279" width="2" height="1" fill="#c3c5d3"/>
<rect x="417" y="279" width="2" height="1" fill="#c3c5d3"/>
<rect x="420" y="279" width="2" height="1" fill="#c3c5d3"/>
<rect x="423" y="279" width="2" height="1" fill="#c3c5d3"/>
<rect x="426" y="279" width="2" height="1" fill="#c3c5d3"/>
<rect x="429" y="279" width="2" height="1" fill="#c3c5d3"/>
<rect x="432" y="279" width="2" height="1" fill="#c3c5d3"/>
<rect x="435" y="279" width="2" height="1" fill="#c3c5d3"/>
<rect x="438" y="279" width="2" height="1" fill="#c3c5d3"/>
<rect x="441" y="279" width="2" height="1" fill="#c3c5d3"/>
<rect x="444" y="279" width="2" height="1" fill="#c3c5d3"/>
<rect x="447" y="279" width="2" height="1" fill="#c3c5d3"/>
<rect x="450" y="279" width="2" height="1" fill="#c3c5d3"/>
<rect x="453" y="279" width="2" height="1" fill="#c3c5d3"/>
<rect x="456" y="279" width="2" height="1" fill="#c3c5d3"/>
<rect x="459" y="279" width="2" height="1" fill="#c3c5d3"/>
<rect x="462" y="279" width="2" height="1" fill="#c3c5d3"/>
<rect x="465" y="279" width="2" height="1" fill="#c3c5d3"/>
<rect x="468" y="279" width="2" height="1" fill="#c3c5d3"/>
<rect x="471" y="279" width="2" height="1" fill="#c3c5d3"/>
<rect x="474" y="279" width="2" height="1" fill="#c3c5d3"/>
<rect x="477" y="279" width="2" height="1" fill="#c3c5d3"/>
<rect x="480" y="279" width="2" height="1" fill="#c3c5d3"/>
<rect x="483" y="279" width="2" height="1" fill="#c3c5d3"/>
<rect x="486" y="279" width="2" height="1" fill="#c3c5d3"/>
<rect x="489" y="279" width="2" height="1" fill="#c3c5d3"/>
<rect x="492" y="279" width="2" height="1" fill="#c3c5d3"/>
<rect x="495" y="279" width="2" height="1" fill="#c3c5d3"/>
<rect x="498" y="279" width="2" height="1" fill="#c3c5d3"/>
<rect x="501" y="279" width="2" height="1" fill="#c3c5d3"/>
<rect x="504" y="279" width="2" height="1" fill="#c3c5d3"/>
<rect x="507" y="279" width="2" height="1" fill="#c3c5d3"/>
<rect x="510" y="279" width="2" height="1" fill="#c3c5d3"/>
<rect x="513" y="279" width="2" height="1" fill="#c3c5d3"/>
<rect x="516" y="279" width="2" height="1" fill="#c3c5d3"/>
<rect x="519" y="279" width="2" height="1" fill="#c3c5d3"/>
<rect x="522" y="279" width="2" height="1" fill="#c3c5d3"/>
<rect x="525" y="279" width="2" height="1" fill="#c3c5d3"/>
<rect x="528" y="279" width="2" height="1" fill="#c3c5d3"/>
<rect x="531" y="279" width="2" height="1" fill="#c3c5d3"/>
<rect x="534" y="279" width="2" height="1" fill="#c3c5d3"/>
<rect x="537" y="279" width="2" height="1" fill="#c3c5d3"/>
<rect x="45" y="305" width="2" height="1" fill="#c3c5d3"/>
<rect x="48" y="305" width="2" height="1" fill="#c3c5d3"/>
<rect x="51" y="305" width="2" height="1" fill="#c3c5d3"/>
<rect x="54" y="305" width="2" height="1" fill="#c3c5d3"/>
<rect x="57" y="305" width="2" height="1" fill="#c3c5d3"/>
<rect x="60" y="305" width="2" height="1" fill="#c3c5d3"/>
<rect x="63" y="305" width="2" height="1" fill="#c3c5d3"/>
<rect x="66" y="305" width="2" height="1" fill="#c3c5d3"/>
<rect x="69" y="305" width="2" height="1" fill="#c3c5d3"/>
<rect x="72" y="305" width="2" height="1" fill="#c3c5d3"/>
<rect x="75" y="305" width="2" height="1" fill="#c3c5d3"/>
<rect x="78" y="305" width="2" height="1" fill="#c3c5d3"/>
<rect x="81" y="305" width="2" height="1" fill="#c3c5d3"/>
<rect x="84" y="305" width="2" height="1" fill="#c3c5d3"/>
<rect x="87" y="305" width="2" height="1" fill="#c3c5d3"/>
<rect x="90" y="305" width="2" height="1" fill="#c3c5d3"/>
<rect x="93" y="305" width="2" height="1" fill="#c3c5d3"/>
<rect x="96" y="305" width="2" height="1" fill="#c3c5d3"/>
<rect x="99" y="305" width="2" height="1" fill="#c3c5d3"/>
<rect x="102" y="305" width="2" height="1" fill="#c3c5d3"/>
<rect x="105" y="305" width="2" height="1" fill="#c3c5d3"/>
<rect x="108" y="305" width="2" height="1" fill="#c3c5d3"/>
<rect x="111" y="305" width="2" height="1" fill="#c3c5d3"/>
<rect x="114" y="305" width="2" height="1" fill="#c3c5d3"/>
<rect x="117" y="305" width="2" height="1" fill="#c3c5d3"/>
<rect x="120" y="305" width="2" height="1" fill="#c3c5d3"/>
<rect x="123" y="305" width="2" height="1" fill="#c3c5d3"/>
<rect x="126" y="305" width="2" height="1" fill="#c3c5d3"/>
<rect x="129" y="305" width="2" height="1" fill="#c3c5d3"/>
<rect x="132" y="305" width="2" height="1" fill="#c3c5d3"/>
<rect x="135" y="305" width="2" height="1" fill="#c3c5d3"/>
<rect x="138" y="305" width="2" height="1" fill="#c3c5d3"/>
<rect x="141" y="305" width="2" height="1" fill="#c3c5d3"/>
<rect x="144" y="305" width="2" height="1" fill="#c3c5d3"/>
<rect x="147" y="305" width="2" height="1" fill="#c3c5d3"/>
<rect x="150" y="305" width="2" height="1" fill="#c3c5d3"/>
<rect x="153" y="305" width="2" height="1" fill="#c3c5d3"/>
<rect x="156" y="305" width="2" height="1" fill="#c3c5d3"/>
<rect x="159" y="305" width="2" height="1" fill="#c3c5d3"/>
<rect x="162" y="305" width="2" height="1" fill="#c3c5d3"/>
<rect x="165" y="305" width="2" height="1" fill="#c3c5d3"/>
<rect x="168" y="305" width="2" height="1" fill="#c3c5d3"/>
<rect x="171" y="305" width="2" height="1" fill="#c3c5d3"/>
<rect x="174" y="305" width="2" height="1" fill="#c3c5d3"/>
<rect x="177" y="305" width="2" height="1" fill="#c3c5d3"/>
<rect x="180" y="305" width="2" height="1" fill="#c3c5d3"/>
<rect x="183" y="305" width="2" height="1" fill="#c3c5d3"/>
<rect x="186" y="305" width="2" height="1" fill="#c3c5d3"/>
<rect x="189" y="305" width="2" height="1" fill="#c3c5d3"/>
<rect x="192" y="305" width="2" height="1" fill="#c3c5d3"/>
<rect x="195" y="305" width="2" height="1" fill="#c3c5d3"/>
<rect x="198" y="305" width="2" height="1" fill="#c3c5d3"/>
<rect x="201" y="305" width="2" height="1" fill="#c3c5d3"/>
<rect x="204" y="305" width="2" height="1" fill="#c3c5d3"/>
<rect x="207" y="305" width="2" height="1" fill="#c3c5d3"/>
<rect x="210" y="305" width="2" height="1" fill="#c3c5d3"/>
<rect x="213" y="305" width="2" height="1" fill="#c3c5d3"/>
<rect x="216" y="305" width="2" height="1" fill="#c3c5d3"/>
<rect x="219" y="305" width="2" height="1" fill="#c3c5d3"/>
<rect x="222" y="305" width="2" height="1" fill="#c3c5d3"/>
<rect x="225" y="305" width="2" height="1" fill="#c3c5d3"/>
<rect x="228" y="305" width="2" height="1" fill="#c3c5d3"/>
<rect x="231" y="305" width="2" height="1" fill="#c3c5d3"/>
<rect x="234" y="305" width="2" height="1" fill="#c3c5d3"/>
<rect x="237" y="305" width="2" height="1" fill="#c3c5d3"/>
<rect x="240" y="305" width="2" height="1" fill="#c3c5d3"/>
<rect x="243" y="305" width="2" height="1" fill="#c3c5d3"/>
<rect x="246" y="305" width="2" height="1" fill="#c3c5d3"/>
<rect x="249" y="305" width="2" height="1" fill="#c3c5d3"/>
<rect x="252" y="305" width="2" height="1" fill="#c3c5d3"/>
<rect x="255" y="305" width="2" height="1" fill="#c3c5d3"/>
<rect x="258" y="305" width="2" height="1" fill="#c3c5d3"/>
<rect x="261" y="305" width="2" height="1" fill="#c3c5d3"/>
<rect x="264" y="305" width="2" height="1" fill="#c3c5d3"/>
<rect x="267" y="305" width="2" height="1" fill="#c3c5d3"/>
<rect x="270" y="305" width="2" height="1" fill="#c3c5d3"/>
<rect x="273" y="305" width="2" height="1" fill="#c3c5d3"/>
<rect x="276" y="305" width="2" height="1" fill="#c3c5d3"/>
<rect x="279" y="305" width="2" height="1" fill="#c3c5d3"/>
<rect x="282" y="305" width="2" height="1" fill="#c3c5d3"/>
<rect x="285" y="305" width="2" height="1" fill="#c3c5d3"/>
<rect x="288" y="305" width="2" height="1" fill="#c3c5d3"/>
<rect x="291" y="305" width="2" height="1" fill="#c3c5d3"/>
<rect x="294" y="305" width="2" height="1" fill="#c3c5d3"/>
<rect x="297" y="305" width="2" height="1" fill="#c3c5d3"/>
<rect x="300" y="305" width="2" height="1" fill="#c3c5d3"/>
<rect x="303" y="305" width="2" height="1" fill="#c3c5d3"/>
<rect x="306" y="305" width="2" height="1" fill="#c3c5d3"/>
<rect x="309" y="305" width="2" height="1" fill="#c3c5d3"/>
<rect x="312" y="305" width="2" height="1" fill="#c3c5d3"/>
<rect x="315" y="305" width="2" height="1" fill="#c3c5d3"/>
<rect x="318" y="305" width="2" height="1" fill="#c3c5d3"/>
<rect x="321" y="305" width="2" height="1" fill="#c3c5d3"/>
<rect x="324" y="305" width="2" height="1" fill="#c3c5d3"/>
<rect x="327" y="305" width="2" height="1" fill="#c3c5d3"/>
<rect x="330" y="305" width="2" height="1" fill="#c3c5d3"/>
<rect x="333" y="305" width="2" height="1" fill="#c3c5d3"/>
<rect x="336" y="305" width="2" height="1" fill="#c3c5d3"/>
<rect x="339" y="305" width="2" height="1" fill="#c3c5d3"/>
<rect x="342" y="305" width="2" height="1" fill="#c3c5d3"/>
<rect x="345" y="305" width="2" height="1" fill="#c3c5d3"/>
<rect x="348" y="305" width="2" height="1" fill="#c3c5d3"/>
<rect x="351" y="305" width="2" height="1" fill="#c3c5d3"/>
<rect x="354" y="305" width="2" height="1" fill="#c3c5d3"/>
<rect x="357" y="305" width="2" height="1" fill="#c3c5d3"/>
<rect x="360" y="305" width="2" height="1" fill="#c3c5d3"/>
<rect x="363" y="305" width="2" height="1" fill="#c3c5d3"/>
<rect x="366" y="305" width="2" height="1" fill="#c3c5d3"/>
<rect x="369" y="305" width="2" height="1" fill="#c3c5d3"/>
<rect x="372" y="305" width="2" height="1" fill="#c3c5d3"/>
<rect x="375" y="305" width="2" height="1" fill="#c3c5d3"/>
<rect x="378" y="305" width="2" height="1" fill="#c3c5d3"/>
<rect x="381" y="305" width="2" height="1" fill="#c3c5d3"/>
<rect x="384" y="305" width="2" height="1" fill="#c3c5d3"/>
<rect x="387" y="305" width="2" height="1" fill="#c3c5d3"/>
<rect x="390" y="305" width="2" height="1" fill="#c3c5d3"/>
<rect x="393" y="305" width="2" height="1" fill="#c3c5d3"/>
<rect x="396" y="305" width="2" height="1" fill="#c3c5d3"/>
<rect x="399" y="305" width="2" height="1" fill="#c3c5d3"/>
<rect x="402" y="305" width="2" height="1" fill="#c3c5d3"/>
<rect x="405" y="305" width="2" height="1" fill="#c3c5d3"/>
<rect x="408" y="305" width="2" height="1" fill="#c3c5d3"/>
<rect x="411" y="305" width="2" height="1" fill="#c3c5d3"/>
<rect x="414" y="305" width="2" height="1" fill="#c3c5d3"/>
<rect x="417" y="305" width="2" height="1" fill="#c3c5d3"/>
<rect x="420" y="305" width="2" height="1" fill="#c3c5d3"/>
<rect x="423" y="305" width="2" height="1" fill="#c3c5d3"/>
<rect x="426" y="305" width="2" height="1" fill="#c3c5d3"/>
<rect x="429" y="305" width="2" height="1" fill="#c3c5d3"/>
<rect x="432" y="305" width="2" height="1" fill="#c3c5d3"/>
<rect x="435" y="305" width="2" height="1" fill="#c3c5d3"/>
<rect x="438" y="305" width="2" height="1" fill="#c3c5d3"/>
<rect x="441" y="305" width="2" height="1" fill="#c3c5d3"/>
<rect x="444" y="305" width="2" height="1" fill="#c3c5d3"/>
<rect x="447" y="305" width="2" height="1" fill="#c3c5d3"/>
<rect x="450" y="305" width="2" height="1" fill="#c3c5d3"/>
<rect x="453" y="305" width="2" height="1" fill="#c3c5d3"/>
<rect x="456" y="305" width="2" height="1" fill="#c3c5d3"/>
<rect x="459" y="305" width="2" height="1" fill="#c3c5d3"/>
<rect x="462" y="305" width="2" height="1" fill="#c3c5d3"/>
<rect x="465" y="305" width="2" height="1" fill="#c3c5d3"/>
<rect x="468" y="305" width="2" height="1" fill="#c3c5d3"/>
<rect x="471" y="305" width="2" height="1" fill="#c3c5d3"/>
<rect x="474" y="305" width="2" height="1" fill="#c3c5d3"/>
<rect x="477" y="305" width="2" height="1" fill="#c3c5d3"/>
<rect x="480" y="305" width="2" height="1" fill="#c3c5d3"/>
<rect x="483" y="305" width="2" height="1" fill="#c3c5d3"/>
<rect x="486" y="305" width="2" height="1" fill="#c3c5d3"/>
<rect x="489" y="305" width="2" height="1" fill="#c3c5d3"/>
<rect x="492" y="305" width="2" height="1" fill="#c3c5d3"/>
<rect x="495" y="305" width="2" height="1" fill="#c3c5d3"/>
<rect x="498" y="305" width="2" height="1" fill="#c3c5d3"/>
<rect x="501" y="305" width="2" height="1" fill="#c3c5d3"/>
<rect x="504" y="305" width="2" height="1" fill="#c3c5d3"/>
<rect x="507" y="305" width="2" height="1" fill="#c3c5d3"/>
<rect x="510" y="305" width="2" height="1" fill="#c3c5d3"/>
<rect x="513" y="305" width="2" height="1" fill="#c3c5d3"/>
<rect x="516" y="305" width="2" height="1" fill="#c3c5d3"/>
<rect x="519" y="305" width="2" height="1" fill="#c3c5d3"/>
<rect x="522" y="305" width="2" height="1" fill="#c3c5d3"/>
<rect x="525" y="305" width="2" height="1" fill="#c3c5d3"/>
<rect x="528" y="305" width="2" height="1" fill="#c3c5d3"/>
<rect x="531" y="305" width="2" height="1" fill="#c3c5d3"/>
<rect x="534" y="305" width="2" height="1" fill="#c3c5d3"/>
<rect x="537" y="305" width="2" height="1" fill="#c3c5d3"/>
</g>
<g shape-rendering="crispEdges">
<rect x="4" y="341" width="595" height="3" fill="#c6c6c6"/>
</g>
<text x="11.00" y="364" fill="#1e1e1e" font-weight="bold" textLength="92.80" lengthAdjust="spacingAndGlyphs">Zeitachsendetails</text>
<text x="283.70" y="364" fill="#1e1e1e" stroke="#1e1e1e" stroke-width="0.25" textLength="78.92" lengthAdjust="spacingAndGlyphs">Sortieren nach:</text>
<g shape-rendering="crispEdges">
<rect x="369.5" y="350.5" width="117" height="19" fill="#ffffff" stroke="#cccedb"/>
<rect x="467" y="351" width="19" height="18" fill="#efeff0"/>
<rect x="467.5" y="351.5" width="18" height="17" fill="none" stroke="#707070"/>
</g>
<path d="M472.3 357.3 L477.1 362.3 L481.9 357.3" fill="none" stroke="#111111" stroke-width="1.8"/>
<text x="374.80" y="364" fill="#1e1e1e" stroke="#1e1e1e" stroke-width="0.25" textLength="42.56" lengthAdjust="spacingAndGlyphs">Startzeit</text>
<g shape-rendering="crispEdges">
<rect x="502" y="352" width="5" height="5" fill="#ffffff"/>
<rect x="515" y="352" width="5" height="5" fill="#ffffff"/>
<rect x="502" y="365" width="5" height="5" fill="#ffffff"/>
<rect x="515" y="365" width="5" height="5" fill="#ffffff"/>
<rect x="503" y="353" width="3" height="3" fill="#1e73c8"/>
<rect x="516" y="353" width="3" height="3" fill="#1e73c8"/>
<rect x="503" y="366" width="3" height="3" fill="#1e73c8"/>
<rect x="516" y="366" width="3" height="3" fill="#1e73c8"/>
<rect x="507" y="354" width="7" height="1" fill="#4a4a4a"/>
<rect x="513" y="354" width="1" height="10" fill="#4a4a4a"/>
<rect x="508" y="358" width="10" height="1" fill="#4a4a4a"/>
<rect x="517" y="358" width="1" height="7" fill="#4a4a4a"/>
<rect x="504" y="357" width="1" height="7" fill="#4a4a4a"/>
<rect x="504" y="363" width="10" height="1" fill="#4a4a4a"/>
<rect x="508" y="358" width="1" height="10" fill="#4a4a4a"/>
<rect x="508" y="367" width="7" height="1" fill="#4a4a4a"/>
</g>
<path d="M531.5 355 H544.5 L539.3 361 V367 H536.8 V361 Z" fill="#424242"/>
<path d="M546.5 360.5 H552 L549.25 363.2 Z" fill="#424242"/>
<path d="M572.5999999999999 356.3 L573.8 352.90000000000003 L575.8 352.90000000000003 L577.0 356.3 Z" transform="rotate(0 574.8 360.8)" fill="#424242"/><path d="M572.5999999999999 356.3 L573.8 352.90000000000003 L575.8 352.90000000000003 L577.0 356.3 Z" transform="rotate(45 574.8 360.8)" fill="#424242"/><path d="M572.5999999999999 356.3 L573.8 352.90000000000003 L575.8 352.90000000000003 L577.0 356.3 Z" transform="rotate(90 574.8 360.8)" fill="#424242"/><path d="M572.5999999999999 356.3 L573.8 352.90000000000003 L575.8 352.90000000000003 L577.0 356.3 Z" transform="rotate(135 574.8 360.8)" fill="#424242"/><path d="M572.5999999999999 356.3 L573.8 352.90000000000003 L575.8 352.90000000000003 L577.0 356.3 Z" transform="rotate(180 574.8 360.8)" fill="#424242"/><path d="M572.5999999999999 356.3 L573.8 352.90000000000003 L575.8 352.90000000000003 L577.0 356.3 Z" transform="rotate(225 574.8 360.8)" fill="#424242"/><path d="M572.5999999999999 356.3 L573.8 352.90000000000003 L575.8 352.90000000000003 L577.0 356.3 Z" transform="rotate(270 574.8 360.8)" fill="#424242"/><path d="M572.5999999999999 356.3 L573.8 352.90000000000003 L575.8 352.90000000000003 L577.0 356.3 Z" transform="rotate(315 574.8 360.8)" fill="#424242"/>
<circle cx="574.8" cy="360.8" r="5.6" fill="#424242"/>
<circle cx="574.8" cy="360.8" r="3.3" fill="#f5f5f5"/>
<circle cx="574.8" cy="360.8" r="1.5" fill="#424242"/>
<path d="M584.5 360.3 H590.3 L587.4 363.9 Z" fill="#424242"/>
<g shape-rendering="crispEdges">
<rect x="5" y="373" width="355" height="1" fill="#cccedb"/>
<rect x="360" y="374" width="239" height="250" fill="#fafafa"/>
<rect x="360" y="374" width="239" height="22" fill="#cccedb"/>
<rect x="357" y="374" width="3" height="250" fill="#c6c6c6"/>
<rect x="144" y="375" width="3" height="249" fill="#c6c6c6"/>
<rect x="147" y="398" width="210" height="1" fill="#cccedb"/>
<rect x="154" y="390" width="1" height="8" fill="#cccedb"/>
<rect x="174" y="390" width="1" height="8" fill="#cccedb"/>
<rect x="212" y="390" width="1" height="8" fill="#cccedb"/>
<rect x="231" y="390" width="1" height="8" fill="#cccedb"/>
<rect x="250" y="390" width="1" height="8" fill="#cccedb"/>
<rect x="268" y="390" width="1" height="8" fill="#cccedb"/>
<rect x="307" y="390" width="1" height="8" fill="#cccedb"/>
<rect x="326" y="390" width="1" height="8" fill="#cccedb"/>
<rect x="345" y="390" width="1" height="8" fill="#cccedb"/>
<rect x="192" y="385" width="1" height="13" fill="#cccedb"/>
<rect x="288" y="374" width="1" height="24" fill="#cccedb"/>
<rect x="223" y="399" width="1" height="218" fill="#cccedb"/>
</g>
<text x="292.50" y="387" fill="#1e1e1e" stroke="#1e1e1e" stroke-width="0.25" textLength="14.90" lengthAdjust="spacingAndGlyphs">2 s</text>
<path d="M342 416.1 L347.5 411 L353 416.1 L353 420 L347.5 414.9 L342 420 Z" fill="#868999"/>
<g shape-rendering="crispEdges">
<rect x="340" y="437" width="15" height="60" fill="#dcdce6"/>
</g>
<path d="M342 607 L347.5 612.1 L353 607 L353 610.9 L347.5 616 L342 610.9 Z" fill="#868999"/>
<text x="34.60" y="393" fill="#1e1e1e" font-weight="bold" textLength="71.01" lengthAdjust="spacingAndGlyphs">Ereignisname</text>
<text x="34.60" y="417" fill="#1e1e1e" stroke="#1e1e1e" stroke-width="0.25" textLength="90.75" lengthAdjust="spacingAndGlyphs">Anwendungsstart</text>
<rect x="11" y="425" width="2" height="12" fill="#9b4f96" shape-rendering="crispEdges"/>
<path d="M21.6 427 L25.9 431 L21.6 435 Z" fill="none" stroke="#4a4a4a" stroke-width="1.05"/>
<text x="34.60" y="435" fill="#1e1e1e" stroke="#1e1e1e" stroke-width="0.25" textLength="67.10" lengthAdjust="spacingAndGlyphs">Analyse(app)</text>
<rect x="11" y="443" width="2" height="12" fill="#9b4f96" shape-rendering="crispEdges"/>
<path d="M21.6 445 L25.9 449 L21.6 453 Z" fill="none" stroke="#4a4a4a" stroke-width="1.05"/>
<text x="34.60" y="453" fill="#1e1e1e" stroke="#1e1e1e" stroke-width="0.25" textLength="99.65" lengthAdjust="spacingAndGlyphs">Analyse(MainWin…</text>
<text x="34.60" y="471" fill="#1e1e1e" stroke="#1e1e1e" stroke-width="0.25" textLength="62.10" lengthAdjust="spacingAndGlyphs">Datenträger</text>
<text x="34.60" y="489" fill="#1e1e1e" stroke="#1e1e1e" stroke-width="0.25" textLength="62.10" lengthAdjust="spacingAndGlyphs">Datenträger</text>
<text x="34.60" y="507" fill="#1e1e1e" stroke="#1e1e1e" stroke-width="0.25" textLength="62.10" lengthAdjust="spacingAndGlyphs">Datenträger</text>
<rect x="11" y="515" width="2" height="12" fill="#9b4f96" shape-rendering="crispEdges"/>
<text x="34.60" y="525" fill="#1e1e1e" stroke="#1e1e1e" stroke-width="0.25" textLength="44.45" lengthAdjust="spacingAndGlyphs">Rendern</text>
<rect x="11" y="533" width="2" height="12" fill="#9b4f96" shape-rendering="crispEdges"/>
<path d="M21.6 535 L25.9 539 L21.6 543 Z" fill="none" stroke="#4a4a4a" stroke-width="1.05"/>
<text x="34.60" y="543" fill="#1e1e1e" stroke="#1e1e1e" stroke-width="0.25" textLength="63.40" lengthAdjust="spacingAndGlyphs">Layout (114)</text>
<rect x="11" y="551" width="2" height="12" fill="#9b4f96" shape-rendering="crispEdges"/>
<text x="34.60" y="561" fill="#1e1e1e" stroke="#1e1e1e" stroke-width="0.25" textLength="100.66" lengthAdjust="spacingAndGlyphs">Garbage Collection</text>
<rect x="11" y="569" width="2" height="12" fill="#9b4f96" shape-rendering="crispEdges"/>
<path d="M21.6 571 L25.9 575 L21.6 579 Z" fill="none" stroke="#4a4a4a" stroke-width="1.05"/>
<text x="34.60" y="579" fill="#1e1e1e" stroke="#1e1e1e" stroke-width="0.25" textLength="56.60" lengthAdjust="spacingAndGlyphs">Layout (31)</text>
<rect x="11" y="587" width="2" height="12" fill="#9b4f96" shape-rendering="crispEdges"/>
<path d="M21.6 589 L25.9 593 L21.6 597 Z" fill="none" stroke="#4a4a4a" stroke-width="1.05"/>
<text x="34.60" y="597" fill="#1e1e1e" stroke="#1e1e1e" stroke-width="0.25" textLength="57.60" lengthAdjust="spacingAndGlyphs">Layout (73)</text>
<rect x="11" y="605" width="2" height="12" fill="#9b4f96" shape-rendering="crispEdges"/>
<path d="M21.6 607 L25.9 611 L21.6 615 Z" fill="none" stroke="#4a4a4a" stroke-width="1.05"/>
<text x="34.60" y="615" fill="#1f2a8f" stroke="#1f2a8f" stroke-width="0.25" textLength="50.80" lengthAdjust="spacingAndGlyphs">Layout (3)</text>
<g shape-rendering="crispEdges">
<rect x="147" y="407" width="55" height="2" fill="#afcc00"/>
<rect x="199" y="407" width="3" height="8" fill="#afcc00"/>
<rect x="173" y="423" width="6" height="12" fill="#0072c6"/>
<rect x="182" y="441" width="9" height="12" fill="#0072c6"/>
<rect x="196" y="459" width="3" height="12" fill="#79d6f0"/>
<rect x="197" y="477" width="3" height="12" fill="#79d6f0"/>
<rect x="198" y="495" width="3" height="12" fill="#79d6f0"/>
<rect x="202" y="513" width="3" height="12" fill="#9b4f96"/>
<rect x="202" y="531" width="16" height="12" fill="#dc5800"/>
<rect x="203" y="549" width="3" height="12" fill="#f0a30a"/>
<rect x="218" y="567" width="3" height="12" fill="#dc5800"/>
<rect x="221" y="585" width="3" height="12" fill="#dc5800"/>
<rect x="221" y="603" width="3" height="12" fill="#dc5800"/>
</g>
<text x="207.90" y="416" fill="#1e1e1e" stroke="#1e1e1e" stroke-width="0.25" textLength="40.40" lengthAdjust="spacingAndGlyphs">1,38 ms</text>
<text x="186.60" y="432" fill="#1e1e1e" stroke="#1e1e1e" stroke-width="0.25" textLength="95.70" lengthAdjust="spacingAndGlyphs">36,41 ms (8,64 ms)</text>
<text x="286.80" y="432" fill="#8a8a8a" stroke="#8a8a8a" stroke-width="0.25" textLength="12.31" lengthAdjust="spacingAndGlyphs">[1]</text>
<text x="193.30" y="450" fill="#1e1e1e" stroke="#1e1e1e" stroke-width="0.25" textLength="89.00" lengthAdjust="spacingAndGlyphs">55,1 ms (52,2 ms)</text>
<text x="286.80" y="450" fill="#8a8a8a" stroke="#8a8a8a" stroke-width="0.25" textLength="18.41" lengthAdjust="spacingAndGlyphs">[22]</text>
<text x="205.80" y="468" fill="#1e1e1e" stroke="#1e1e1e" stroke-width="0.25" textLength="39.90" lengthAdjust="spacingAndGlyphs">4,56 ms</text>
<text x="249.80" y="468" fill="#8a8a8a" stroke="#8a8a8a" stroke-width="0.25" textLength="29.40" lengthAdjust="spacingAndGlyphs">[8 KB]</text>
<text x="205.80" y="486" fill="#1e1e1e" stroke="#1e1e1e" stroke-width="0.25" textLength="39.90" lengthAdjust="spacingAndGlyphs">2,27 ms</text>
<text x="249.80" y="486" fill="#8a8a8a" stroke="#8a8a8a" stroke-width="0.25" textLength="29.40" lengthAdjust="spacingAndGlyphs">[4 KB]</text>
<text x="206.10" y="504" fill="#1e1e1e" stroke="#1e1e1e" stroke-width="0.25" textLength="39.60" lengthAdjust="spacingAndGlyphs">5,15 ms</text>
<text x="249.80" y="504" fill="#8a8a8a" stroke="#8a8a8a" stroke-width="0.25" textLength="29.40" lengthAdjust="spacingAndGlyphs">[4 KB]</text>
<text x="209.10" y="522" fill="#1e1e1e" stroke="#1e1e1e" stroke-width="0.25" textLength="45.70" lengthAdjust="spacingAndGlyphs">0,039 ms</text>
<text x="222.60" y="540" fill="#1e1e1e" stroke="#1e1e1e" stroke-width="0.25" textLength="103.00" lengthAdjust="spacingAndGlyphs">94,52 ms (0,047 ms)</text>
<text x="209.30" y="558" fill="#1e1e1e" stroke="#1e1e1e" stroke-width="0.25" textLength="39.50" lengthAdjust="spacingAndGlyphs">9,14 ms</text>
<text x="225.60" y="576" fill="#1e1e1e" stroke="#1e1e1e" stroke-width="0.25" textLength="88.80" lengthAdjust="spacingAndGlyphs">7,76 ms (5,99 ms)</text>
<text x="225.60" y="594" fill="#1e1e1e" stroke="#1e1e1e" stroke-width="0.25" textLength="83.70" lengthAdjust="spacingAndGlyphs">1,5 ms (0,02 ms)</text>
<text x="229.10" y="612" fill="#1e1e1e" stroke="#1e1e1e" stroke-width="0.25" textLength="103.00" lengthAdjust="spacingAndGlyphs">0,036 ms (0,012 ms)</text>
<text x="372.00" y="415" fill="#1e1e1e" stroke="#1e1e1e" stroke-width="0.25" textLength="77.53" lengthAdjust="spacingAndGlyphs">Auswahldauer:</text>
<text x="517.60" y="415" fill="#1e1e1e" stroke="#1e1e1e" stroke-width="0.25" textLength="51.90" lengthAdjust="spacingAndGlyphs">911,79 ms</text>
<text x="372.00" y="436" fill="#1e1e1e" stroke="#1e1e1e" stroke-width="0.25" textLength="46.13" lengthAdjust="spacingAndGlyphs">Startzeit:</text>
<text x="517.60" y="436" fill="#1e1e1e" stroke="#1e1e1e" stroke-width="0.25" textLength="29.90" lengthAdjust="spacingAndGlyphs">1,26 s</text>
<rect x="368" y="444" width="221" height="1" fill="#cccedb" shape-rendering="crispEdges"/>
<text x="372.00" y="463" fill="#1e1e1e" stroke="#1e1e1e" stroke-width="0.25" textLength="150.12" lengthAdjust="spacingAndGlyphs">UI-Threadzusammenfassung:</text>
<path d="M481.03 497.41 A67.9 67.9 0 0 1 545.74 588.97 L522.03 580.15 A42.6 42.6 0 0 0 481.43 522.71 Z" fill="#afcc00"/>
<path d="M545.74 588.97 A67.9 67.9 0 0 1 459.10 629.19 L467.67 605.38 A42.6 42.6 0 0 0 522.03 580.15 Z" fill="#dc5800"/>
<path d="M459.10 629.19 A67.9 67.9 0 0 1 414.23 563.40 L439.52 564.11 A42.6 42.6 0 0 0 467.67 605.38 Z" fill="#cbcddb"/>
<path d="M414.23 563.40 A67.9 67.9 0 0 1 430.55 521.11 L449.76 537.58 A42.6 42.6 0 0 0 439.52 564.11 Z" fill="#0072c6"/>
<path d="M430.55 521.11 A67.9 67.9 0 0 1 458.88 501.49 L467.53 525.27 A42.6 42.6 0 0 0 449.76 537.58 Z" fill="#79d6f0"/>
<path d="M458.88 501.49 A67.9 67.9 0 0 1 470.31 498.43 L474.70 523.35 A42.6 42.6 0 0 0 467.53 525.27 Z" fill="#b2b2b2"/>
<path d="M470.31 498.43 A67.9 67.9 0 0 1 481.03 497.41 L481.43 522.71 A42.6 42.6 0 0 0 474.70 523.35 Z" fill="#9b4f96"/>
<path d="M481.45 524.21 L481.01 495.91" stroke="#ffffff" stroke-width="1.8"/>
<path d="M520.62 579.63 L547.15 589.49" stroke="#ffffff" stroke-width="1.8"/>
<path d="M468.18 603.97 L458.59 630.60" stroke="#ffffff" stroke-width="1.8"/>
<path d="M441.02 564.15 L412.73 563.36" stroke="#ffffff" stroke-width="1.8"/>
<path d="M450.89 538.55 L429.41 520.14" stroke="#ffffff" stroke-width="1.8"/>
<path d="M468.04 526.68 L458.36 500.09" stroke="#ffffff" stroke-width="1.8"/>
<path d="M474.96 524.82 L470.05 496.95" stroke="#ffffff" stroke-width="1.8"/>
<text x="546.70" y="527" fill="#1e1e1e" stroke="#1e1e1e" stroke-width="0.25" textLength="25.00" lengthAdjust="spacingAndGlyphs">32 %</text>
<text x="418.50" y="501" fill="#1e1e1e" stroke="#1e1e1e" stroke-width="0.25" textLength="18.80" lengthAdjust="spacingAndGlyphs">8 %</text>
<text x="378.80" y="545" fill="#1e1e1e" stroke="#1e1e1e" stroke-width="0.25" textLength="24.89" lengthAdjust="spacingAndGlyphs">11 %</text>
<text x="385.70" y="614.5" fill="#1e1e1e" stroke="#1e1e1e" stroke-width="0.25" textLength="24.90" lengthAdjust="spacingAndGlyphs">20 %</text>
</svg></body></html>
